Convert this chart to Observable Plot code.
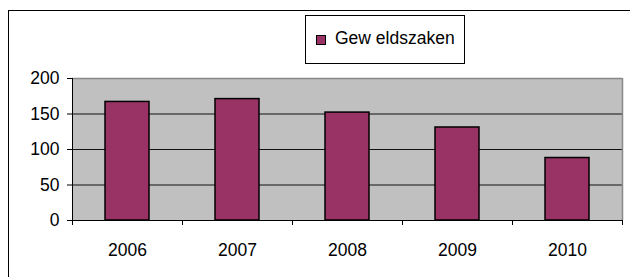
<!DOCTYPE html>
<html>
<head>
<meta charset="utf-8">
<script src="https://cdn.jsdelivr.net/npm/d3@7"></script>
<script src="https://cdn.jsdelivr.net/npm/@observablehq/plot@0.6"></script>
<style>
  html, body { margin: 0; padding: 0; background: #fff; width: 630px; height: 277px; overflow: hidden; }
  #wrap { position: relative; width: 630px; height: 277px; font-family: "Liberation Sans", Arial, sans-serif; }
  #frame { position: absolute; left: 8px; top: 10px; width: 640px; height: 300px; border: 1.5px solid #000; box-sizing: border-box; }
  #chart { position: absolute; left: 0; top: 0; }
  #legend { position: absolute; left: 305px; top: 15px; width: 160px; height: 49px; border: 1px solid #000; box-sizing: border-box; background: #fff; font-size: 17.5px; color: #000; }
  #legend .sw { position: absolute; left: 10px; top: 19px; width: 10px; height: 10px; background: #993366; border: 1px solid #000; box-sizing: border-box; }
  #legend .lb { position: absolute; left: 29px; top: 12px; line-height: 20px; white-space: pre; }
</style>
</head>
<body>
<div id="wrap">
  <div id="frame"></div>
  <div id="chart"></div>
  <div id="legend"><span class="sw"></span><span class="lb" id="lb"></span></div>
</div>
<script>
const years = [2006, 2007, 2008, 2009, 2010];
const values = [167, 171, 152, 131, 88];
const yTicks = [0, 50, 100, 150, 200];
const seriesName = "Gew eldszaken";

const data = years.map((year, i) => ({year, value: values[i]}));
const boundaries = [years[0] - 0.5, ...years.map(y => y + 0.5)];

document.getElementById("lb").textContent = seriesName;

const chart = Plot.plot({
  width: 630,
  height: 277,
  marginLeft: 72,
  marginRight: 8,
  marginTop: 78,
  marginBottom: 57,
  style: {fontFamily: "'Liberation Sans', Arial, sans-serif", fontSize: "17.5px", background: "transparent", color: "#000", overflow: "visible"},
  x: {domain: [boundaries[0], boundaries[boundaries.length - 1]]},
  y: {domain: [yTicks[0], yTicks[yTicks.length - 1]]},
  marks: [
    Plot.frame({fill: "#C0C0C0"}),
    Plot.ruleY(yTicks.slice(1, -1), {stroke: "#111", strokeWidth: 1}),
    Plot.ruleY([yTicks[yTicks.length - 1]], {stroke: "#888", strokeWidth: 1.5}),
    Plot.ruleX([boundaries[boundaries.length - 1]], {stroke: "#888", strokeWidth: 1.5}),
    Plot.rectY(data, {x1: d => d.year - 0.5, x2: d => d.year + 0.5, y: "value", insetLeft: 33, insetRight: 33, fill: "#993366", stroke: "#000", strokeWidth: 1.5}),
    Plot.ruleX([boundaries[0]], {stroke: "#000", strokeWidth: 1}),
    Plot.ruleY([0], {stroke: "#000", strokeWidth: 1}),
    Plot.axisY({ticks: yTicks, tickSize: 5, tickPadding: 8, label: null, tickFormat: "d"}),
    Plot.axisX({ticks: boundaries, tickSize: 5, tickFormat: () => "", label: null}),
    Plot.axisX({ticks: years, tickSize: 0, tickPadding: 23, tickFormat: "d", label: null})
  ]
});
document.getElementById("chart").appendChild(chart);
</script>
</body>
</html>
